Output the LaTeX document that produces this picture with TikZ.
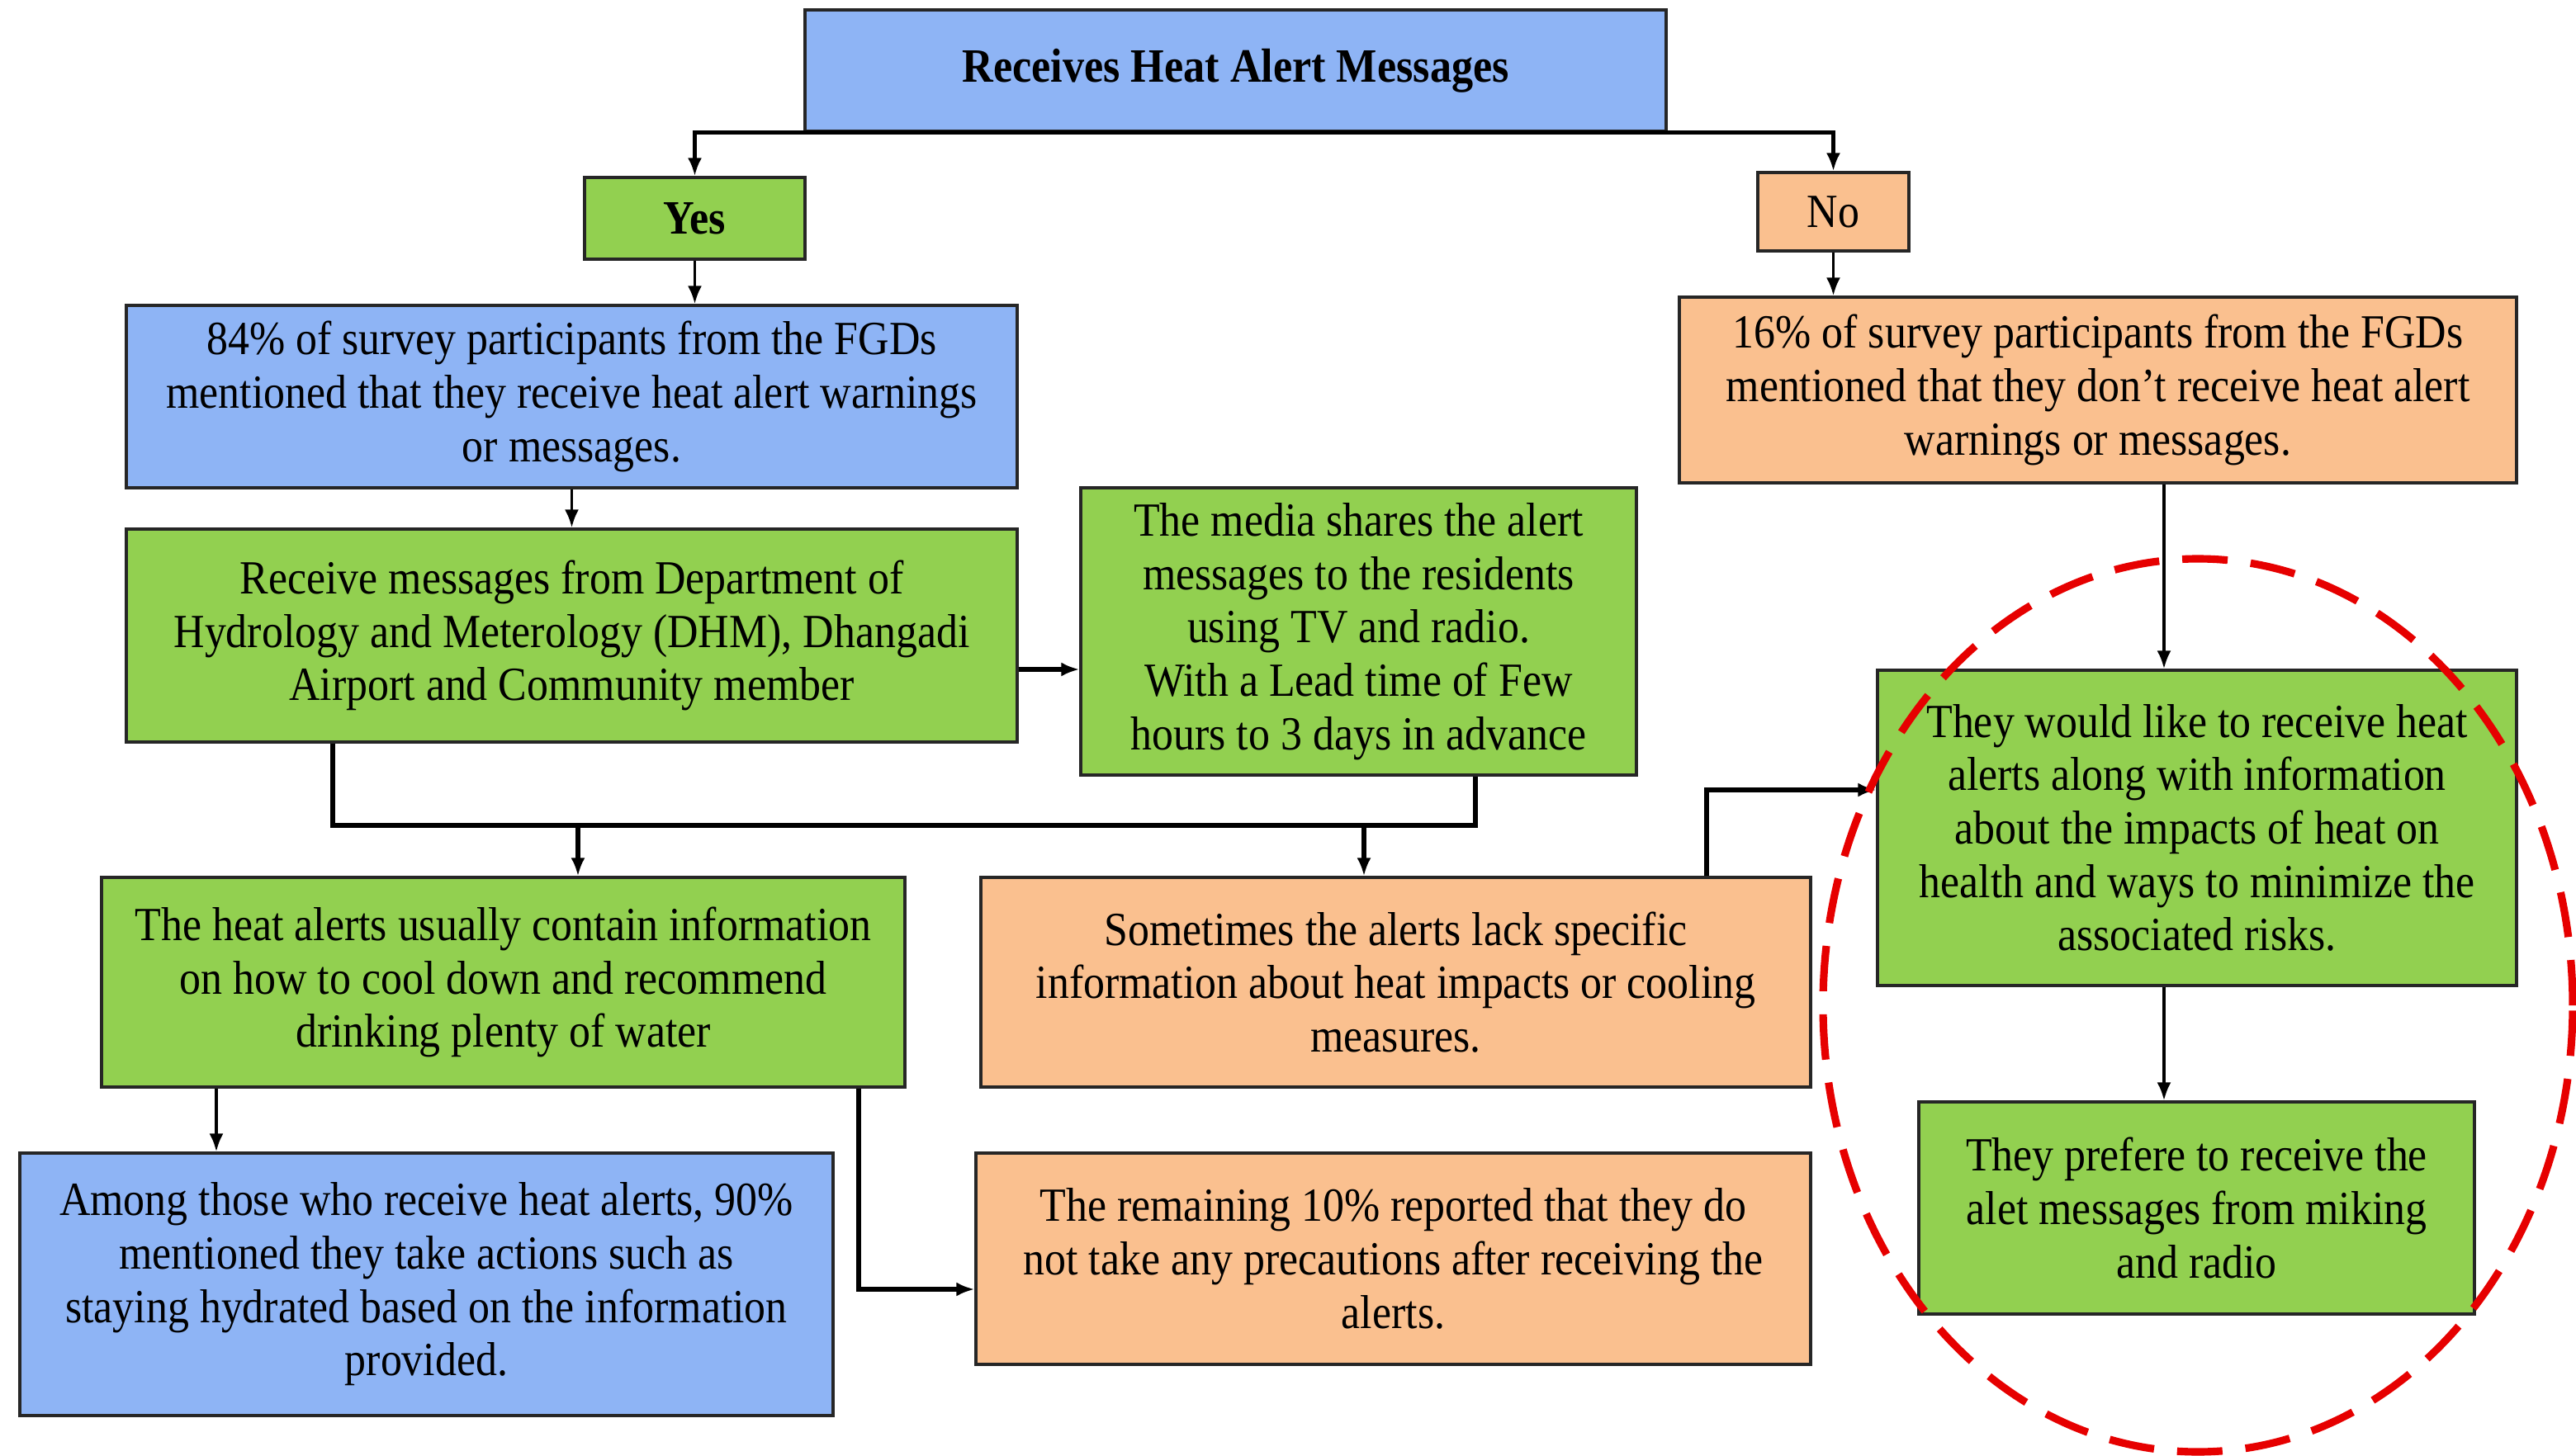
\documentclass[tikz,border=0pt]{standalone}
\usepackage{fontspec}
\setmainfont{Liberation Serif}[FakeStretch=0.9]
\usetikzlibrary{arrows.meta}
\definecolor{boxblue}{RGB}{142,180,245}
\definecolor{boxgreen}{RGB}{146,208,80}
\definecolor{boxorange}{RGB}{250,192,143}
\definecolor{alertred}{RGB}{230,0,0}

\begin{document}
\begin{tikzpicture}[>={Latex[length=0.22cm,width=0.17cm]},
    box/.style={draw=black!85, line width=0.9pt, align=center, inner sep=2pt,
      font=\fontsize{16.4}{18.4}\selectfont},
    bluebox/.style={box, fill=boxblue},
    greenbox/.style={box, fill=boxgreen},
    orangebox/.style={box, fill=boxorange},
    sz/.style 2 args={minimum width=#1cm, minimum height=#2cm},
    thickline/.style={line width=1.6pt},
    thinline/.style={line width=1.1pt}]
      \useasboundingbox (0,0) rectangle (31.2,-17.64);
      % top and the two answers
      \node[bluebox, sz={10.43}{1.47}, font=\fontsize{16.5}{19}\selectfont\bfseries] (top) at (14.965,-0.855) {Receives Heat Alert Messages};
      \node[greenbox, sz={2.67}{0.99}, font=\fontsize{16.5}{19}\selectfont\bfseries] (yes) at (8.415,-2.645) {Yes};
      \node[orangebox, sz={1.83}{0.95}] (no) at (22.205,-2.565) {No};
      % yes side
      \node[bluebox, sz={10.79}{2.21}] (p84) at (6.925,-4.805) {84\% of survey participants from the FGDs\\ mentioned that they receive heat alert warnings\\ or messages.};
      \node[greenbox, sz={10.79}{2.58}] (recv) at (6.925,-7.70) {Receive messages from Department of\\ Hydrology and Meterology (DHM), Dhangadi\\ Airport and Community member};
      \node[greenbox, sz={6.73}{3.48}] (media) at (16.455,-7.65) {The media shares the alert\\ messages to the residents\\ using TV and radio.\\ With a Lead time of Few\\ hours to 3 days in advance};
      \node[greenbox, sz={9.73}{2.54}] (usual) at (6.095,-11.90) {The heat alerts usually contain information\\ on how to cool down and recommend\\ drinking plenty of water};
      \node[orangebox, sz={10.05}{2.54}] (lack) at (16.905,-11.90) {Sometimes the alerts lack specific\\ information about heat impacts or cooling\\ measures.};
      \node[bluebox, sz={9.85}{3.18}] (among) at (5.165,-15.56) {Among those who receive heat alerts, 90\%\\ mentioned they take actions such as\\ staying hydrated based on the information\\ provided.};
      \node[orangebox, sz={10.11}{2.56}] (remain) at (16.875,-15.25) {The remaining 10\% reported that they do\\ not take any precautions after receiving the\\ alerts.};
      % no side
      \node[orangebox, sz={10.14}{2.25}] (p16) at (25.41,-4.725) {16\% of survey participants from the FGDs\\ mentioned that they don’t receive heat alert\\ warnings or messages.};
      \node[greenbox, sz={7.74}{3.82}] (like) at (26.61,-10.03) {They would like to receive heat\\ alerts along with information\\ about the impacts of heat on\\ health and ways to minimize the\\ associated risks.};
      \node[greenbox, sz={6.73}{2.57}] (prefer) at (26.605,-14.635) {They prefere to receive the\\ alet messages from miking\\ and radio};
      % connectors
      \draw[->, thickline] (top.south) -| (yes.north);
      \draw[->, thickline] (top.south) -| (no.north);
      \draw[->, thinline] (yes.south) -- (yes.south |- p84.north);
      \draw[->, thinline] (no.south) -- (no.south |- p16.north);
      \draw[->, thinline] (p84.south) -- (recv.north);
      \draw[->, thickline] ([yshift=-0.41cm]recv.east) -- ([yshift=-0.41cm]recv.east -| media.west);
      % bus under recv and media
      \coordinate (busL) at (4.03,-10.00);
      \coordinate (busR) at (17.87,-10.00);
      \coordinate (dropA) at (7.00,-10.00);
      \coordinate (dropB) at (16.52,-10.00);
      \draw[thickline] (busL |- recv.south) -- (busL) -- (busR) -- (busR |- media.south);
      \draw[->, thickline] (dropA) -- (dropA |- usual.north);
      \draw[->, thickline] (dropB) -- (dropB |- lack.north);
      \coordinate (riseL) at (20.67,-9.57);
      \draw[->, thickline] (riseL |- lack.north) -- (riseL) -- (riseL -| like.west);
      \coordinate (colR) at (26.21,0);
      \draw[->, thinline] (p16.south -| colR) -- (colR |- like.north);
      \draw[->, thinline] (like.south -| colR) -- (colR |- prefer.north);
      \coordinate (dropC) at (2.62,0);
      \draw[->, thinline] (usual.south -| dropC) -- (dropC |- among.north);
      \coordinate (bendR) at (10.40,-15.62);
      \draw[->, thickline] (usual.south -| bendR) -- (bendR) -- (bendR -| remain.west);
      % red dashed ring
      \draw[alertred, line width=2.6pt, dash pattern=on 0.55cm off 0.28cm] (26.62,-12.18) ellipse (4.54 and 5.41);
    \end{tikzpicture}
\end{document}
